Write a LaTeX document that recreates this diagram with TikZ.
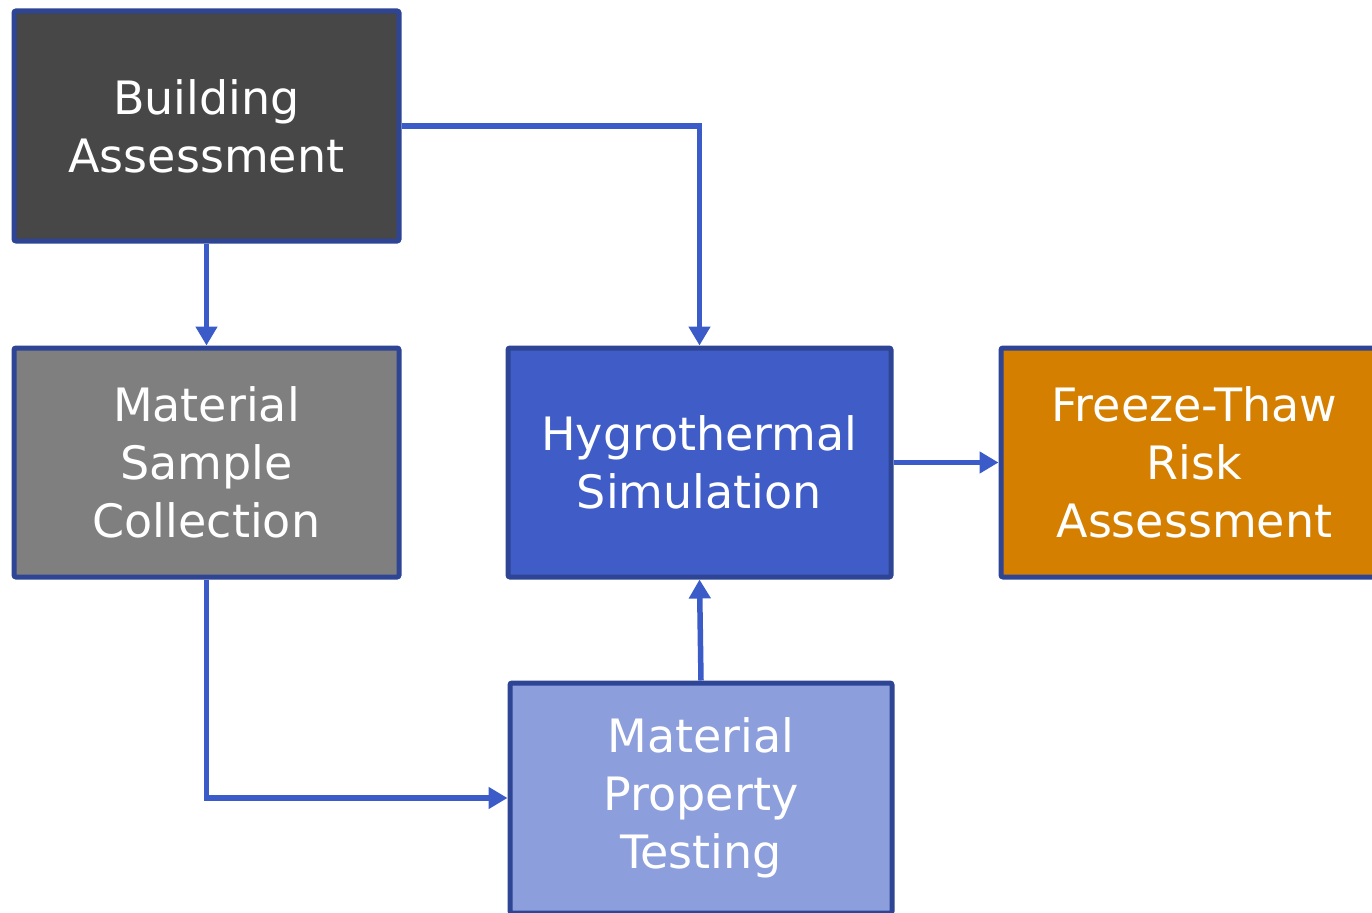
\documentclass[tikz,border=0pt]{standalone}
\usepackage{fontspec}
\setmainfont{DejaVu Sans}
\usetikzlibrary{arrows.meta}
\definecolor{bordc}{HTML}{2E4494}
\definecolor{arrc}{HTML}{3B5BC8}
\definecolor{fillA}{HTML}{474747}
\definecolor{fillB}{HTML}{7F7F7F}
\definecolor{fillC}{HTML}{405DC7}
\definecolor{fillD}{HTML}{D47F00}
\definecolor{fillE}{HTML}{8C9EDC}
\tikzset{
  x=1pt,y=1pt,
  box/.style={draw=bordc, line width=5pt, rounded corners=2pt, text=white,
    align=center, inner sep=0pt,
    font=\fontsize{46}{58}\selectfont},
  conn/.style={draw=arrc, line width=5.5pt,
    -{Triangle[width=21pt,length=19pt]}}
}
\begin{document}
\begin{tikzpicture}
\useasboundingbox (0,0) rectangle (1372,-912);
\node[box, fill=fillA, minimum width=385pt, minimum height=230pt] (ba) at (206.5,-126) {Building\\Assessment};
\node[box, fill=fillB, minimum width=385pt, minimum height=229pt] (msc) at (206.5,-462.5) {Material\\Sample\\Collection};
\node[box, fill=fillC, minimum width=383pt, minimum height=229pt] (hs) at (699.5,-462.5) {Hygrothermal\\Simulation};
\node[box, fill=fillD, minimum width=387pt, minimum height=229pt] (ft) at (1194.5,-462.5) {Freeze-Thaw\\Risk\\Assessment};
\node[box, fill=fillE, minimum width=382pt, minimum height=230pt] (mpt) at (701,-798) {Material\\Property\\Testing};
\draw[conn] (ba.south) -- (msc.north);
\draw[conn] (ba.east) -| (hs.north);
\draw[conn] (hs.east) -- (ft.west);
\draw[conn] (msc.south) |- (mpt.west);
\draw[conn] (mpt.north) -- (hs.south);
\end{tikzpicture}
\end{document}
